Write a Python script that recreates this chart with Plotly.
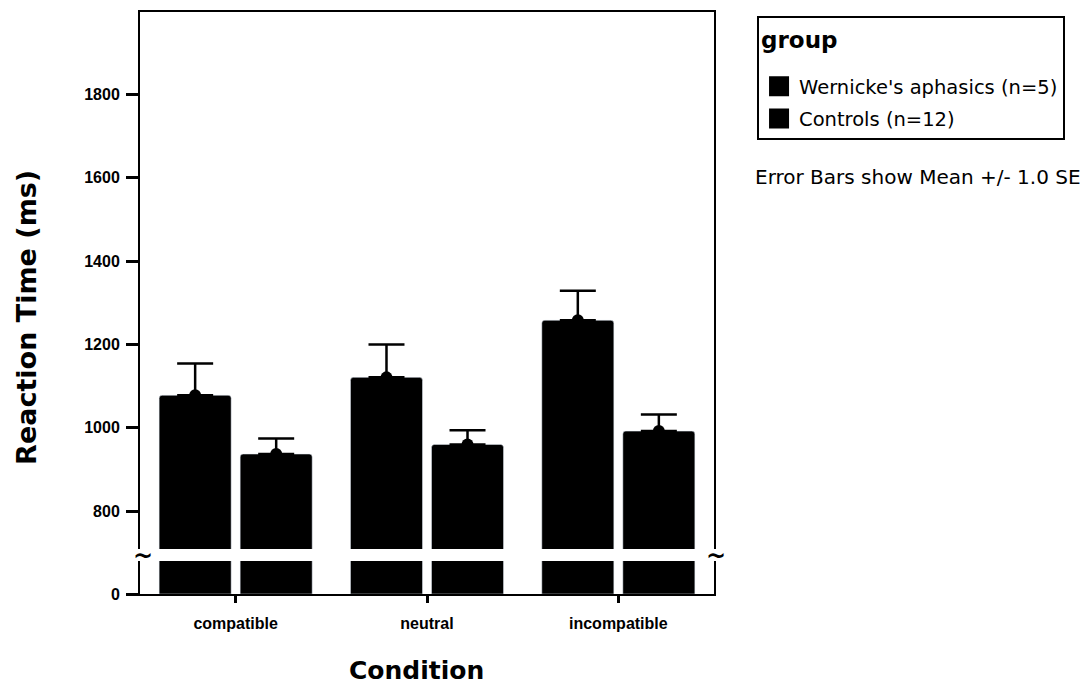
import plotly.graph_objects as go

# Reaction times by condition and group (mean and standard error, ms)
categories = ["compatible", "neutral", "incompatible"]
wernicke_mean = [1078, 1121, 1258]
wernicke_se = [76, 79, 71]
control_mean = [937, 960, 992]
control_se = [37, 34, 40]

group_names = ["Wernicke's aphasics (n=5)", "Controls (n=12)"]
upper_ticks = [800, 1000, 1200, 1400, 1600, 1800]
lower_ticks = [0]

BLACK = "#000000"
series = [(group_names[0], wernicke_mean, wernicke_se, "w"),
          (group_names[1], control_mean, control_se, "c")]

fig = go.Figure()

for i, (name, mean, se, key) in enumerate(series):
    # lower (broken) panel, shows the bar stubs near zero
    fig.add_trace(go.Bar(
        x=categories, y=mean, name=name, offsetgroup=key,
        marker=dict(color=BLACK, cornerradius=3),
        xaxis="x", yaxis="y", showlegend=False, legendgroup=key,
        hoverinfo="skip",
    ))
    # upper panel with error bars (upper half only)
    fig.add_trace(go.Bar(
        x=categories, y=mean, name=name, offsetgroup=key,
        marker=dict(color=BLACK, cornerradius=3),
        error_y=dict(type="data", array=se, arrayminus=[0] * len(se),
                     symmetric=False, color=BLACK, thickness=2.5, width=18),
        xaxis="x2", yaxis="y2", showlegend=False, legendgroup=key,
    ))
    # mean marker at bar top
    fig.add_trace(go.Scatter(
        x=categories, y=mean, mode="markers", offsetgroup=key,
        marker=dict(color=BLACK, size=12, symbol="circle"),
        xaxis="x2", yaxis="y2", showlegend=False, hoverinfo="skip",
    ))
    # legend entry with a large square swatch
    entry = dict(
        x=[None], y=[None], mode="markers", name=name, legendgroup=key,
        marker=dict(color=BLACK, size=16, symbol="square",
                    line=dict(color=BLACK, width=4)),
        xaxis="x2", yaxis="y2", showlegend=True,
    )
    if i == 0:
        # blank spacer between the legend title and the first entry
        entry["legendgrouptitle"] = dict(text=" ", font=dict(size=1))
    fig.add_trace(go.Scatter(**entry))

tick_font = dict(family="Liberation Sans", size=16, color=BLACK, weight="bold")

fig.update_layout(
    width=1088, height=686,
    margin=dict(l=140, r=374, t=12, b=92),
    paper_bgcolor="white", plot_bgcolor="white",
    barmode="group", bargap=0.153, bargroupgap=0.111,
    scattermode="group", scattergap=0.153,
    xaxis=dict(
        domain=[0, 1], anchor="y", range=[-0.5, 2.5],
        showline=True, linecolor=BLACK, linewidth=2,
        ticks="outside", ticklen=7, tickwidth=3, tickcolor=BLACK,
        tickfont=dict(family="Liberation Sans", size=16, color=BLACK, weight="bold"),
        ticklabelstandoff=7, showgrid=False, zeroline=False,
    ),
    xaxis2=dict(
        domain=[0, 1], anchor="y2", matches="x", side="top",
        showline=True, linecolor=BLACK, linewidth=2,
        showticklabels=False, ticks="", showgrid=False, zeroline=False,
    ),
    yaxis=dict(
        domain=[0, 0.0567], range=[0, 100], anchor="x",
        tickvals=lower_ticks, ticktext=[str(v) for v in lower_ticks],
        showline=True, mirror=True, linecolor=BLACK, linewidth=2,
        ticks="outside", ticklen=12, tickwidth=3, tickcolor=BLACK,
        tickfont=tick_font, ticklabelstandoff=3,
        showgrid=False, zeroline=False,
    ),
    yaxis2=dict(
        domain=[0.0773, 1], range=[709, 1998], anchor="x2",
        tickvals=upper_ticks, ticktext=[str(v) for v in upper_ticks],
        showline=True, mirror=True, linecolor=BLACK, linewidth=2,
        ticks="outside", ticklen=12, tickwidth=3, tickcolor=BLACK,
        tickfont=tick_font, ticklabelstandoff=3,
        showgrid=False, zeroline=False,
    ),
    legend=dict(
        x=1.075, y=0.993, xanchor="left", yanchor="top",
        bordercolor=BLACK, borderwidth=2, bgcolor="white",
        title=dict(text="group",
                   font=dict(family="DejaVu Sans", size=23, color=BLACK, weight="bold")),
        font=dict(family="DejaVu Sans", size=19.5, color=BLACK),
        tracegroupgap=4, itemsizing="trace",
    ),
    showlegend=True,
    annotations=[
        dict(text="Reaction Time (ms)", textangle=-90, xref="paper", yref="paper",
             x=-0.197, y=0.476, xanchor="center", yanchor="middle", showarrow=False,
             font=dict(family="DejaVu Sans", size=27, color=BLACK, weight="bold")),
        dict(text="Condition", xref="paper", yref="paper",
             x=0.481, y=-0.1306, xanchor="center", yanchor="middle", showarrow=False,
             font=dict(family="DejaVu Sans", size=25, color=BLACK, weight="bold")),
        dict(text="Error Bars show Mean +/- 1.0 SE", xref="paper", yref="paper",
             x=1.068, y=0.7165, xanchor="left", yanchor="middle", showarrow=False,
             font=dict(family="DejaVu Sans", size=20, color=BLACK)),
        # axis-break marks
        dict(text="~", xref="paper", yref="paper", x=0.005, y=0.066,
             xanchor="center", yanchor="middle", showarrow=False,
             font=dict(family="DejaVu Sans", size=24, color=BLACK, weight="bold")),
        dict(text="~", xref="paper", yref="paper", x=1.0035, y=0.066,
             xanchor="center", yanchor="middle", showarrow=False,
             font=dict(family="DejaVu Sans", size=24, color=BLACK, weight="bold")),
    ],
)

fig.write_html("out.html")
